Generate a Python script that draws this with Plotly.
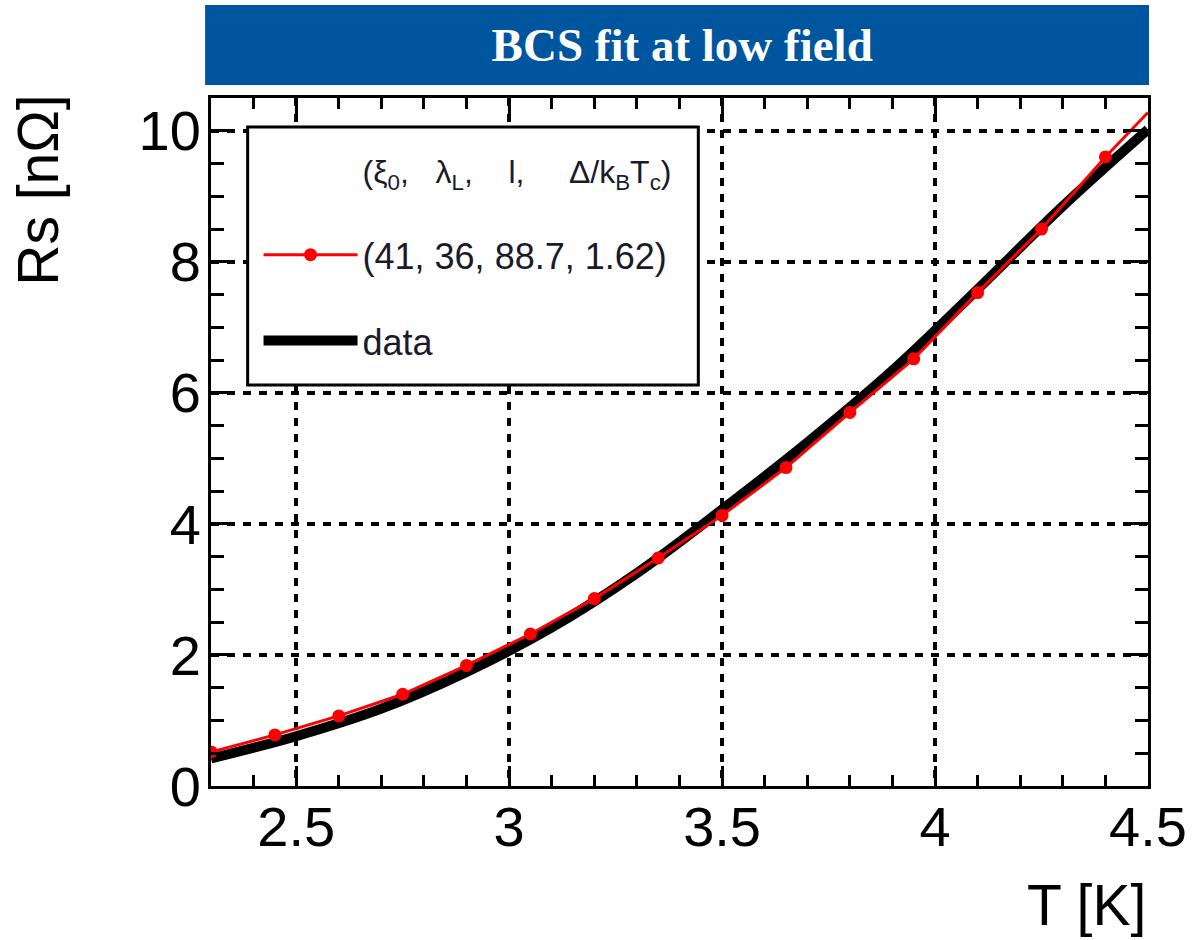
import plotly.graph_objects as go

# ---- data ----
T_fit = [2.3, 2.45, 2.6, 2.75, 2.9, 3.05, 3.2, 3.35, 3.5, 3.65, 3.8, 3.95, 4.1, 4.25, 4.4]
Rs_fit = [0.52, 0.78, 1.07, 1.40, 1.84, 2.32, 2.86, 3.48, 4.13, 4.86, 5.70, 6.52, 7.53, 8.50, 9.60]
T_fit_tail = [4.4, 4.5]
Rs_fit_tail = [9.60, 10.28]

T_data = [2.3, 2.5, 2.7, 2.9, 3.1, 3.3, 3.5, 3.7, 3.9, 4.1, 4.3, 4.5]
Rs_data = [0.42, 0.76, 1.18, 1.74, 2.42, 3.25, 4.22, 5.24, 6.34, 7.58, 8.85, 10.02]

fit_label = "(41, 36, 88.7, 1.62)"
data_label = "data"
NB = "\u00a0"
legend_header = ("(ξ<sub>0</sub>," + NB * 3 + "λ<sub>L</sub>," + NB * 4 + "l,"
                 + NB * 5 + "Δ/k<sub>B</sub>T<sub>c</sub>)")
title_text = "BCS fit at low field"
x_title = "T [K]"
y_title = "Rs [nΩ]"

SANS = "Liberation Sans, Arial, sans-serif"
SERIF = "Liberation Serif, Times New Roman, serif"

fig = go.Figure()
# legend header as a blank legend entry
fig.add_trace(go.Scatter(
    x=[None], y=[None], mode="lines", name=f'<span style="font-size:32px">{legend_header}</span>',
    line=dict(color="rgba(0,0,0,0)", width=1), legendgroup="h", legendrank=1,
    hoverinfo="skip",
))
fig.add_trace(go.Scatter(
    x=T_data, y=Rs_data, mode="lines", name=data_label,
    line=dict(color="black", width=10, shape="spline"),
    legendgroup="b", legendrank=3,
))
fig.add_trace(go.Scatter(
    x=T_fit_tail, y=Rs_fit_tail, mode="lines", showlegend=False,
    line=dict(color="#ff0000", width=3), legendgroup="a",
))
fig.add_trace(go.Scatter(
    x=T_fit, y=Rs_fit, mode="lines+markers", name=fit_label,
    line=dict(color="#ff0000", width=3),
    marker=dict(color="#ff0000", size=13, line=dict(width=0)),
    legendgroup="a", legendrank=2,
))

axis_common = dict(
    showline=True, linecolor="black", linewidth=3, mirror="allticks",
    ticks="inside", ticklen=20, tickwidth=3, tickcolor="black",
    showgrid=True, gridcolor="black", gridwidth=3.5, griddash="8px,8px",
    zeroline=False,
    tickfont=dict(family=SANS, size=56, color="black"),
)

fig.update_xaxes(
    range=[2.3, 4.5], tick0=2.5, dtick=0.5, ticklabelstandoff=-10,
    minor=dict(dtick=0.1, ticks="inside", ticklen=11, tickwidth=3, tickcolor="black", showgrid=False),
    **axis_common,
)
fig.update_yaxes(
    range=[0, 10.5], tick0=0, dtick=2, ticklabelstandoff=-4,
    minor=dict(dtick=0.5, ticks="inside", ticklen=13, tickwidth=3, tickcolor="black", showgrid=False),
    **axis_common,
)

fig.update_layout(
    width=1199, height=940,
    margin=dict(l=211, r=42, t=98, b=154),
    paper_bgcolor="white", plot_bgcolor="white",
    title=dict(text=f"<b>{title_text}</b>", x=0.569, xanchor="center",
               y=1 - 45 / 940, yanchor="middle",
               font=dict(family=SERIF, size=47, color="white")),
    showlegend=True,
    legend=dict(
        x=(259 - 211) / 946, y=(786 - 139) / 688, xanchor="left", yanchor="top",
        bgcolor="rgba(0,0,0,0)", borderwidth=0,
        font=dict(family=SANS, size=36, color="#1a1a2a"),
        itemwidth=94, tracegroupgap=36, traceorder="grouped",
    ),
    shapes=[
        dict(type="rect", xref="paper", yref="paper",
             x0=-0.0063, x1=1.0011, y0=1.019, y1=1.135,
             fillcolor="#00559f", line=dict(width=0), layer="below"),
        dict(type="rect", xref="paper", yref="paper",
             x0=(248 - 211) / 946, x1=(703 - 211) / 946,
             y0=(786 - 385) / 688, y1=(786 - 127) / 688,
             fillcolor="white", line=dict(color="black", width=3), layer="above"),
    ],
    annotations=[
        dict(text=y_title, xref="paper", yref="paper", x=-0.184, y=0.866,
             xanchor="center", yanchor="middle", textangle=-90, showarrow=False,
             font=dict(family=SANS, size=57, color="black")),
        dict(text=x_title, xref="paper", yref="paper", x=1.0, y=-0.173,
             xanchor="right", yanchor="middle", showarrow=False,
             font=dict(family=SANS, size=57, color="black")),
    ],
)

fig.write_html("out.html")
